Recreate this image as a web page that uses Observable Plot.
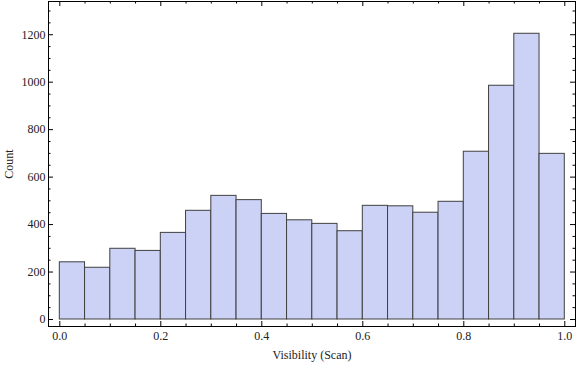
<!DOCTYPE html>
<html>
<head>
<meta charset="utf-8">
<script src="https://cdn.jsdelivr.net/npm/d3@7"></script>
<script src="https://cdn.jsdelivr.net/npm/@observablehq/plot@0.6"></script>
<style>
  html, body { margin: 0; padding: 0; background: #fff; }
  #chart svg { display: block; }
</style>
</head>
<body>
<div id="chart"></div>
<script>
// Bin edges (lower / upper) of the histogram
const binStart = [0.00, 0.05, 0.10, 0.15, 0.20, 0.25, 0.30, 0.35, 0.40, 0.45,
                  0.50, 0.55, 0.60, 0.65, 0.70, 0.75, 0.80, 0.85, 0.90, 0.95];
const binEnd   = [0.05, 0.10, 0.15, 0.20, 0.25, 0.30, 0.35, 0.40, 0.45, 0.50,
                  0.55, 0.60, 0.65, 0.70, 0.75, 0.80, 0.85, 0.90, 0.95, 1.00];
// Counts per bin
const counts   = [241, 218, 298, 289, 365, 458, 521, 503, 445, 418,
                  403, 372, 479, 477, 450, 496, 707, 985, 1204, 698];

// Tick values
const xMajorTicks = [0, 0.2, 0.4, 0.6, 0.8, 1.0];
const xMinorTicks = [0.05, 0.1, 0.15, 0.25, 0.3, 0.35, 0.45, 0.5, 0.55, 0.65, 0.7, 0.75, 0.85, 0.9, 0.95];
const yMajorTicks = [0, 200, 400, 600, 800, 1000, 1200];
const yMinorTicks = [50, 100, 150, 250, 300, 350, 450, 500, 550, 650, 700, 750, 850, 900, 950, 1050, 1100, 1150, 1250, 1300];

const bins = binStart.map((s, i) => ({x1: s, x2: binEnd[i], count: counts[i]}));

const W = 576, H = 366;
const mT = 1, mB = 40, mL = 48, mR = 1;
const ph = H - mT - mB, pw = W - mL - mR;
const majorLen = 5, minorLen = 2.5;

const chart = Plot.plot({
  width: W,
  height: H,
  marginTop: mT,
  marginBottom: mB,
  marginLeft: mL,
  marginRight: mR,
  style: {fontFamily: "'Liberation Serif', 'Times New Roman', serif", fontSize: "12px", color: "#222", background: "#fff"},
  x: {domain: [-0.0224, 1.0212]},
  y: {domain: [-29.5, 1340]},
  marks: [
    Plot.rectY(bins, {x1: "x1", x2: "x2", y1: 0, y2: "count", fill: "#cbd2f5", stroke: "#404040", strokeWidth: 1}),
    // bottom ticks
    Plot.tickX(xMajorTicks, {x: d => d, insetTop: ph - majorLen, stroke: "#000"}),
    Plot.tickX(xMinorTicks, {x: d => d, insetTop: ph - minorLen, stroke: "#000"}),
    // top ticks
    Plot.tickX(xMajorTicks, {x: d => d, insetBottom: ph - majorLen, stroke: "#000"}),
    Plot.tickX(xMinorTicks, {x: d => d, insetBottom: ph - minorLen, stroke: "#000"}),
    // left ticks
    Plot.tickY(yMajorTicks, {y: d => d, insetRight: pw - majorLen, stroke: "#000"}),
    Plot.tickY(yMinorTicks, {y: d => d, insetRight: pw - minorLen, stroke: "#000"}),
    // right ticks
    Plot.tickY(yMajorTicks, {y: d => d, insetLeft: pw - majorLen, stroke: "#000"}),
    Plot.tickY(yMinorTicks, {y: d => d, insetLeft: pw - minorLen, stroke: "#000"}),
    Plot.axisX(xMajorTicks, {tickSize: 0, tickPadding: 5, tickFormat: d3.format(".1f"), fontSize: 12,
      label: "Visibility (Scan)", labelAnchor: "center", labelArrow: "none", labelOffset: 32}),
    Plot.axisY(yMajorTicks, {tickSize: 0, tickPadding: 3, tickFormat: d => String(d), fontSize: 12,
      label: "Count", labelAnchor: "center", labelArrow: "none", labelOffset: 44}),
    Plot.frame({stroke: "#000", strokeWidth: 1})
  ]
});
document.getElementById("chart").appendChild(chart);
</script>
</body>
</html>
